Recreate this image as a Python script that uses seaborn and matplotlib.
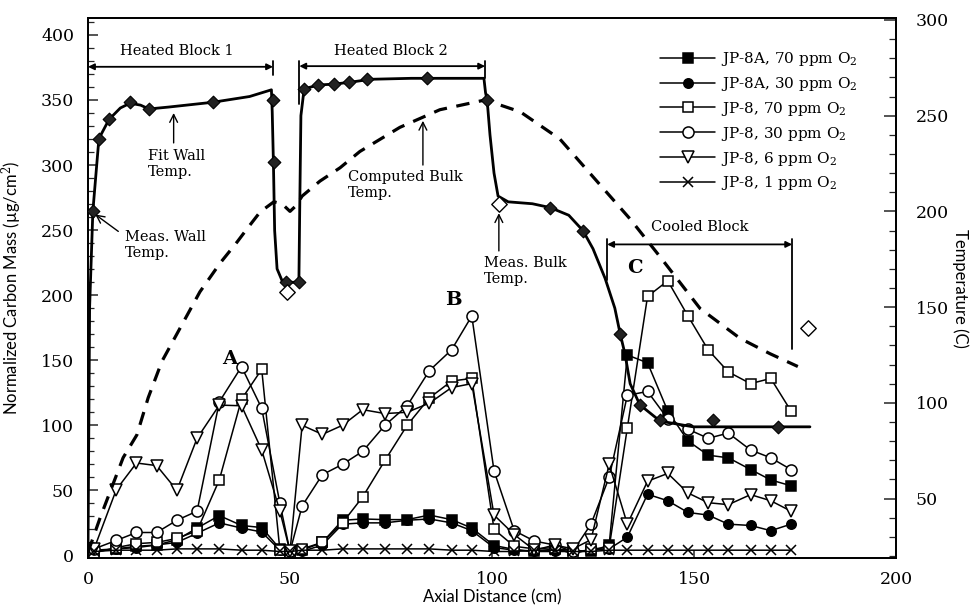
import matplotlib
matplotlib.use("Agg")
import matplotlib.pyplot as plt
import seaborn as sns
from matplotlib.lines import Line2D
from matplotlib.ticker import MultipleLocator, FixedLocator

sns.set_theme(style="white")
plt.rcParams['font.family'] = ['DejaVu Serif']
plt.rcParams['mathtext.fontset'] = 'dejavuserif'

# ---------------- data ----------------
# axial positions (cm) of the carbon-deposit measurements
pos_a = [1.5, 7, 12, 17, 22, 27, 32.5, 38, 43, 47.5, 50]
pos_b = [53, 58, 63, 68, 73.5, 79, 84.5, 90, 95, 100.5]
pos_m = [105.5, 110.5, 115.5, 120, 124.5, 129]
pos_c = [133.5, 138.5, 143.5, 148.5, 153.5, 158.5, 164, 169, 174]
axial = pos_a + pos_b + pos_m + pos_c

# normalized carbon mass (ug/cm2)
jp8a_70 = [3, 5, 7, 8, 12, 21, 30.6, 23, 21.4, 5, 2,
           4, 10, 27, 28, 27.5, 27.5, 31, 27.5, 21, 7.6,
           4.6, 3, 5, 4, 3, 8,
           154, 148, 111, 88, 77, 75, 66, 58, 53.5]
jp8a_30 = [4, 5, 6, 8, 10, 17, 25, 21, 18, 4, 2,
           3, 8, 24, 25, 25, 27, 28, 25, 19, 6,
           4, 3, 3, 3, 4, 5,
           14, 47, 42, 33, 31, 24, 23, 19, 24]
jp8_70 = [2, 6, 9, 10, 13, 19, 58, 120, 143, 4, 2,
          5, 10, 25, 45, 73, 100, 121, 134, 136, 20,
          7, 5, 6, 1, 5, 6,
          98, 199, 211, 184, 158, 141, 132, 136, 111]
jp8_30 = [5, 11.5, 17.6, 17.6, 27, 34, 118, 145, 113, 40, 3,
          38, 62, 70, 80, 100, 115, 142, 158, 184, 65,
          19, 11, 8, 3, 24, 60,
          123, 126, 105, 97, 90, 94, 81, 75, 66]
jp8_6 = [5, 50.5, 71, 69, 50, 90, 115.5, 115, 81, 34, 3,
         100, 93, 100, 112, 109, 110, 117, 129, 132, 31,
         16, 4, 8, 5, 12, 70,
         24, 57, 63, 48, 40.5, 39, 46.7, 42, 34]
jp8_1 = [3, 4, 4, 4, 5, 5, 5, 4, 4, 3, 3,
         4, 4, 5, 5, 5, 5, 5, 4, 4, 3,
         3, 4, 4, 3, 3, 4,
         4, 4, 4, 4, 4, 4, 4, 4, 4]

labels = ['JP-8A, 70 ppm O$_2$', 'JP-8A, 30 ppm O$_2$', 'JP-8, 70 ppm O$_2$',
          'JP-8, 30 ppm O$_2$', 'JP-8, 6 ppm O$_2$', 'JP-8, 1 ppm O$_2$']

# fitted wall temperature (C)
wall_fit_x = [0.0, 0.4, 1.2, 2.7, 5.2, 8.0, 10.4, 13.0, 15.1, 20.0, 30.9, 40.0,
              45.4, 45.6, 45.9, 46.2, 46.8, 48.0, 49.0, 52.2, 52.4, 52.7, 53.5,
              57.0, 61.0, 65.0, 70.0, 80.0, 90.0, 98.0, 98.4, 98.8, 99.5, 100.5,
              101.5, 104.0, 110.0, 114.4, 119.0, 122.5, 125.0, 128.0, 130.4,
              131.7, 132.9, 134.2, 136.6, 141.6, 149.8, 178.7]
wall_fit_t = [22, 150, 200, 238, 248, 254, 256.5, 255.5, 253.5, 254.5, 257, 260,
              263.5, 252, 225, 190, 170, 164, 163, 163, 200, 250, 264,
              266, 266.5, 267.5, 269, 269.5, 269.5, 269.5, 262, 258, 240, 220,
              208, 205, 204, 202, 198, 190, 180.5, 165, 149.5,
              136.3, 125.7, 110, 99, 90.5, 87.5, 87.5]
# measured wall temperature (C)
wall_meas_x = [1.2, 2.7, 5.2, 10.4, 15.1, 30.9, 45.8, 46.0, 49.0, 52.2, 53.5, 57.0,
               61.0, 64.5, 69.0, 84.0, 98.8, 114.4, 122.5, 131.7, 136.6, 141.6,
               154.7, 170.8]
wall_meas_t = [200, 238, 248, 257, 253.5, 257, 258, 225.6, 163, 163, 264, 266,
               266.5, 267.5, 269, 269.5, 258, 202, 190, 136, 99, 91, 91, 87.5]
# measured bulk temperature (C)
bulk_meas_x = [49.3, 101.7, 178.2]
bulk_meas_t = [157.7, 204, 139]
# computed bulk temperature (C)
bulk_calc_x = [0, 3, 8.7, 12.1, 14.9, 18.3, 22, 27.7, 32.7, 36.9, 39.4, 42.6, 46,
               48, 50, 51.5, 53, 57.4, 62.4, 67.3, 77.2, 87.1, 98.3, 107, 116.8,
               126.7, 134.2, 141.6, 151.5, 161.4, 168.8, 175.7]
bulk_calc_t = [22, 40, 71.4, 83.3, 102.7, 121.7, 136, 158, 173, 184, 191, 199.7,
               205, 204, 200, 203, 208, 215.8, 222.8, 231.3, 243.9, 253.1, 258.2,
               252, 237.8, 214, 196, 176.3, 149.3, 133.7, 125.7, 119]

# ---------------- figure ----------------
W, H = 972, 605
fig = plt.figure(figsize=(W / 100, H / 100), dpi=100)
fig.patch.set_facecolor('white')
L, R, T, B = 88, 896, 18, 558
ax = fig.add_axes([L / W, 1 - B / H, (R - L) / W, (B - T) / H])
ax.set_facecolor('white')
ax2 = ax.twinx()

styles = [
    dict(marker='s', mfc='black', ms=6.5),
    dict(marker='o', mfc='black', ms=6.8),
    dict(marker='s', mfc='white', ms=7.5),
    dict(marker='o', mfc='white', ms=8.0),
    dict(marker='v', mfc='white', ms=8.5),
    dict(marker='x', mfc='none', ms=6.5),
]
series = [jp8a_70, jp8a_30, jp8_70, jp8_30, jp8_6, jp8_1]
order = [5, 0, 1, 4, 2, 3]
for i in order:
    st = styles[i]
    sns.lineplot(x=axial, y=series[i], ax=ax, color='black', lw=1.1,
                 marker=st['marker'], ms=st['ms'], mfc=st['mfc'], mec='black',
                 mew=1.1, estimator=None, sort=False, legend=False, zorder=3 + i * 0.1)

# temperatures on right axis
sns.lineplot(x=bulk_calc_x, y=bulk_calc_t, ax=ax2, color='black', lw=2.3,
             linestyle=(0, (4.2, 3.0)), estimator=None, sort=False, legend=False)
sns.lineplot(x=wall_fit_x, y=wall_fit_t, ax=ax2, color='black', lw=2.0,
             estimator=None, sort=False, legend=False)
sns.scatterplot(x=wall_meas_x, y=wall_meas_t, ax=ax2, marker='D', s=42,
                color='#222222', edgecolor='black', linewidth=0.8, legend=False, zorder=5)
sns.scatterplot(x=bulk_meas_x, y=bulk_meas_t, ax=ax2, marker='D', s=62,
                color='white', edgecolor='black', linewidth=1.0, legend=False, zorder=5)

# ---------------- axes ----------------
ax.set_xlim(0, 200)
ax.set_ylim(-2, 413)
ax2.set_ylim(19, 301)
ax.set_xticks([0, 50, 100, 150, 200])
ax.set_yticks(range(0, 401, 50))
ax.yaxis.set_minor_locator(MultipleLocator(10))
ax2.set_yticks(range(50, 301, 50))
ax2.yaxis.set_minor_locator(FixedLocator(list(range(20, 301, 10))))
ax.tick_params(axis='y', which='major', direction='in', length=7, width=1.1,
               labelsize=12.5, pad=10, left=True)
ax.tick_params(axis='y', which='minor', direction='in', length=4, width=0.9, left=True)
ax.tick_params(axis='x', which='major', direction='in', length=6, width=1.1,
               labelsize=12.5, pad=9, bottom=True)
ax2.tick_params(axis='y', which='major', direction='in', length=9, width=1.1,
                labelsize=12.5, pad=14, right=True)
ax2.tick_params(axis='y', which='minor', direction='in', length=5, width=0.9, right=True)
for a in (ax, ax2):
    for s in a.spines.values():
        s.set_color('black')
        s.set_linewidth(1.3)
for lab in ax.get_xticklabels() + ax.get_yticklabels() + ax2.get_yticklabels():
    lab.set_color('black')

lab_font = dict(family=['Lato', 'DejaVu Sans'], size=12, color='black')
ax.set_xlabel('Axial Distance (cm)', labelpad=1, **lab_font)
ax.set_ylabel('Normalized Carbon Mass (µg/cm$^2$)', labelpad=12, **lab_font)
ax2.set_ylabel('Temperature (C)', rotation=270, labelpad=14, **lab_font)

# ---------------- annotations (left-axis data coords) ----------------
tk = dict(fontsize=10.5, color='black')
ax.text(22, 388, 'Heated Block 1', ha='center', va='center', **tk)
ax.text(75, 388, 'Heated Block 2', ha='center', va='center', **tk)
ax.text(151.5, 252, 'Cooled Block', ha='center', va='center', **tk)
ap = dict(arrowstyle='<|-|>', lw=1.3, color='black', mutation_scale=9,
          shrinkA=0, shrinkB=0)
ax.annotate('', xy=(0, 375.5), xytext=(45.8, 375.5), arrowprops=ap)
ax.plot([45.8, 45.8], [369, 380], color='black', lw=1.3)
ax.annotate('', xy=(52.3, 376), xytext=(98.3, 376), arrowprops=ap)
ax.plot([52.3, 52.3], [347, 380], color='black', lw=1.3)
ax.plot([98.3, 98.3], [367, 380], color='black', lw=1.3)
ax.annotate('', xy=(128.5, 239), xytext=(174.3, 239), arrowprops=ap)
ax.plot([128.5, 128.5], [212, 243], color='black', lw=1.3)
ax.plot([174.3, 174.3], [159, 243], color='black', lw=1.3)

arr = dict(arrowstyle='->', lw=1.0, color='black', mutation_scale=14,
           shrinkA=0, shrinkB=0)
ax.annotate('', xy=(21.2, 340), xytext=(21.2, 317), arrowprops=arr)
ax.text(14.9, 312, 'Fit Wall\nTemp.', ha='left', va='top', linespacing=1.15, **tk)
ax.annotate('', xy=(1.8, 262), xytext=(7.5, 249), arrowprops=arr)
ax.text(9.2, 250, 'Meas. Wall\nTemp.', ha='left', va='top', linespacing=1.15, **tk)
ax.annotate('', xy=(82.9, 334), xytext=(82.9, 300), arrowprops=arr)
ax.text(64.4, 296, 'Computed Bulk\nTemp.', ha='left', va='top', linespacing=1.15, **tk)
ax.annotate('', xy=(101.7, 263), xytext=(101.7, 234), arrowprops=arr)
ax.text(98.0, 230, 'Meas. Bulk\nTemp.', ha='left', va='top', linespacing=1.15, **tk)

bk = dict(fontsize=14, fontweight='bold', color='black', ha='center', va='center')
ax.text(35, 151, 'A', **bk)
ax.text(90.5, 196, 'B', **bk)
ax.text(135.5, 221, 'C', **bk)

# ---------------- legend ----------------
handles = []
for st in styles:
    handles.append(Line2D([], [], color='black', lw=1.1, marker=st['marker'],
                          ms=st['ms'], mfc=st['mfc'], mec='black', mew=1.1))
fig.legend(handles, labels, loc='upper left', bbox_to_anchor=(660 / W, 1 - 50 / H),
           frameon=False, fontsize=11, handlelength=3.6, handletextpad=0.4,
           labelspacing=0.45, borderpad=0, borderaxespad=0, labelcolor='black')

fig.savefig('out.png', dpi=100, facecolor='white')
